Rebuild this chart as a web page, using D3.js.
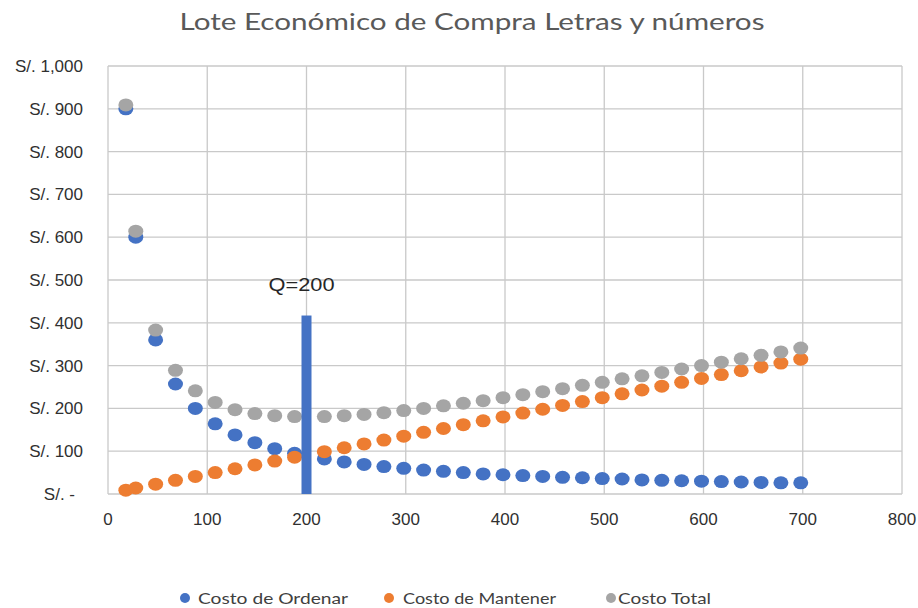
<!DOCTYPE html>
<html>
<head>
<meta charset="utf-8">
<script src="https://cdn.jsdelivr.net/npm/d3@7"></script>
<style>
	body { margin: 0; background: #fff; }
	svg { display: block; }
</style>
</head>
<body>
<svg id="chart" width="918" height="608"></svg>
<script>
// Tamaño de lote (Q)
const lote = [20, 30, 50, 70, 90, 110, 130, 150, 170, 190, 220, 240, 260, 280, 300, 320, 340, 360,
	380, 400, 420, 440, 460, 480, 500, 520, 540, 560, 580, 600, 620, 640, 660, 680, 700];
// Costo de Ordenar
const ordenar = [900, 600, 360, 257, 200, 164, 138, 120, 106, 95, 82, 75, 69, 64, 60, 56, 53, 50,
	47, 45, 43, 41, 39, 38, 36, 35, 33, 32, 31, 30, 29, 28, 27, 26, 26];
// Costo de Mantener
const mantener = [9, 14, 23, 32, 41, 50, 59, 68, 77, 86, 99, 108, 117, 126, 135, 144, 153, 162,
	171, 180, 189, 198, 207, 216, 225, 234, 243, 252, 261, 270, 279, 288, 297, 306, 315];
// Costo Total
const total = [909, 614, 383, 289, 241, 214, 197, 188, 183, 181, 181, 183, 186, 190, 195, 200, 206, 212,
	218, 225, 232, 239, 246, 254, 261, 269, 276, 284, 292, 300, 308, 316, 324, 332, 341];
// Barra del lote óptimo
const optimo = { q: 200, altura: 417, etiqueta: "Q=200" };

const xTicks = [0, 100, 200, 300, 400, 500, 600, 700, 800];
const yTicks = [0, 100, 200, 300, 400, 500, 600, 700, 800, 900, 1000];

const series = [
	{ name: "Costo de Ordenar", values: ordenar, color: "#4472C4" },
	{ name: "Costo de Mantener", values: mantener, color: "#ED7D31" },
	{ name: "Costo Total", values: total, color: "#A5A5A5" }
];

const svg = d3.select("#chart");
const pLeft = 108, pRight = 902, pTop = 66, pBottom = 494;

const x = d3.scaleLinear().domain([0, 800]).range([pLeft, pRight]);
const y = d3.scaleLinear().domain([0, 1000]).range([pBottom, pTop]);

// titulo
svg.append("text")
	.attr("x", 472).attr("y", 30)
	.attr("text-anchor", "middle")
	.attr("font-family", "Lato, 'Open Sans', sans-serif")
	.attr("font-size", 24)
	.attr("fill", "#595959")
	.attr("textLength", 585)
	.attr("lengthAdjust", "spacingAndGlyphs")
	.text("Lote Económico de Compra Letras y números");

// grid
const grid = svg.append("g").attr("stroke", "#c9c9c9").attr("stroke-width", 1.3);
grid.selectAll(".h").data(yTicks).enter().append("line")
	.attr("x1", pLeft).attr("x2", pRight)
	.attr("y1", d => y(d)).attr("y2", d => y(d));
grid.selectAll(".v").data(xTicks).enter().append("line")
	.attr("y1", pTop).attr("y2", pBottom)
	.attr("x1", d => x(d)).attr("x2", d => x(d));

// etiquetas de ejes
const fmt = d3.format(",");
svg.append("g").selectAll("text").data(yTicks).enter().append("text")
	.attr("x", d => d === 0 ? 75 : 83)
	.attr("y", d => y(d) + 6)
	.attr("text-anchor", "end")
	.attr("font-family", "'Liberation Sans', Arial, sans-serif")
	.attr("font-size", 17)
	.attr("fill", "#303030")
	.text(d => d === 0 ? "S/. -" : "S/. " + fmt(d));

svg.append("g").selectAll("text").data(xTicks).enter().append("text")
	.attr("x", d => x(d))
	.attr("y", 525)
	.attr("text-anchor", "middle")
	.attr("font-family", "'Liberation Sans', Arial, sans-serif")
	.attr("font-size", 17)
	.attr("fill", "#303030")
	.text(d => d);

// puntos
series.forEach(s => {
	svg.append("g").selectAll("ellipse").data(lote).enter().append("ellipse")
		.attr("cx", d => x(d) - 2)
		.attr("cy", (d, i) => y(s.values[i]))
		.attr("rx", 7.5).attr("ry", 6.5)
		.attr("fill", s.color);
});

// barra Q=200
svg.append("rect")
	.attr("x", x(optimo.q) - 5).attr("width", 10)
	.attr("y", y(optimo.altura))
	.attr("height", y(0) - y(optimo.altura))
	.attr("fill", "#4472C4");

svg.append("text")
	.attr("x", x(optimo.q) - 5).attr("y", 291)
	.attr("text-anchor", "middle")
	.attr("font-family", "'Liberation Sans', Arial, sans-serif")
	.attr("font-size", 19)
	.attr("fill", "#262626")
	.attr("textLength", 66)
	.attr("lengthAdjust", "spacingAndGlyphs")
	.text(optimo.etiqueta);

// leyenda
const legendPos = [{ m: 185, t: 198, w: 150 }, { m: 389, t: 403, w: 153 }, { m: 611, t: 618, w: 93 }];
const legend = svg.append("g");
series.forEach((s, i) => {
	legend.append("circle")
		.attr("cx", legendPos[i].m).attr("cy", 598).attr("r", 5)
		.attr("fill", s.color);
	legend.append("text")
		.attr("x", legendPos[i].t).attr("y", 604)
		.attr("font-family", "Lato, 'Open Sans', sans-serif")
		.attr("font-size", 16)
		.attr("fill", "#404040")
		.attr("textLength", legendPos[i].w)
		.attr("lengthAdjust", "spacingAndGlyphs")
		.text(s.name);
});
</script>
</body>
</html>
